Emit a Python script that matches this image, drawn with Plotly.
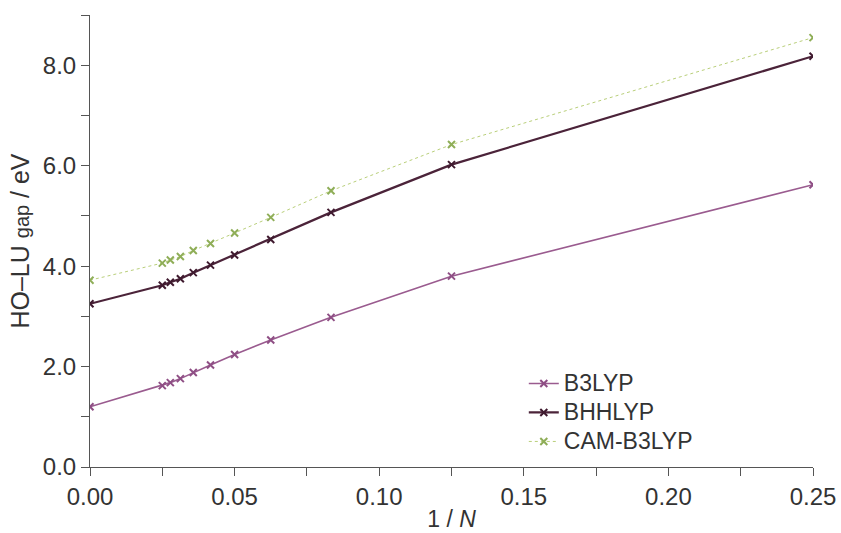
import plotly.graph_objects as go

# Inverse chain length 1/N
inv_n = [0.0, 1/40, 1/36, 1/32, 1/28, 1/24, 1/20, 1/16, 1/12, 1/8, 1/4]

# HOMO-LUMO gaps (eV)
b3lyp = [1.20, 1.62, 1.68, 1.76, 1.88, 2.03, 2.24, 2.53, 2.98, 3.80, 5.62]
bhhlyp = [3.25, 3.62, 3.68, 3.75, 3.87, 4.02, 4.22, 4.53, 5.07, 6.02, 8.18]
cam_b3lyp = [3.72, 4.06, 4.12, 4.19, 4.31, 4.45, 4.66, 4.97, 5.50, 6.42, 8.55]

series_names = ["B3LYP", "BHHLYP", "CAM-B3LYP"]
series_values = [b3lyp, bhhlyp, cam_b3lyp]
line_colors = ["#9a5b8f", "#4b2339", "#b9cf7a"]
marker_colors = ["#8f4f85", "#3f1a2f", "#8fae58"]
widths = [1.6, 2.2, 1.0]
dashes = ["solid", "solid", "dot"]

font_family = "'Liberation Sans', Arial, sans-serif"
text_color = "#333333"

fig = go.Figure()
for name, vals, lc, mc, w, d in zip(series_names, series_values, line_colors,
                                    marker_colors, widths, dashes):
    fig.add_trace(go.Scatter(
        x=inv_n, y=vals, mode="lines+markers",
        name=f"<span style='font-size:23px'>{name}</span>",
        line=dict(color=lc, width=w, dash=d),
        marker=dict(symbol="x-thin", size=7, line=dict(color=mc, width=2)),
    ))

axis_common = dict(
    showgrid=False, zeroline=False, showline=True, linecolor="#555555",
    linewidth=1, ticks="outside", tickcolor="#555555", ticklen=8,
    tickfont=dict(family=font_family, size=24, color=text_color),
    automargin=False,
)

fig.update_layout(
    width=841, height=533,
    margin=dict(l=90, r=28, t=15, b=66),
    paper_bgcolor="white", plot_bgcolor="white",
    font=dict(family=font_family, color=text_color),
    xaxis=dict(
        range=[0, 0.25], tickvals=[0, 0.05, 0.10, 0.15, 0.20, 0.25],
        ticktext=["0.00", "0.05", "0.10", "0.15", "0.20", "0.25"],
        minor=dict(dtick=0.025, tick0=0, ticks="outside", ticklen=8, tickcolor="#555555"),
        title=dict(text="1 / <i>N</i>", font=dict(size=23, family=font_family), standoff=2),
        **axis_common,
    ),
    yaxis=dict(
        range=[0, 9], tickvals=[0, 2, 4, 6, 8],
        ticktext=["0.0", "2.0", "4.0", "6.0", "8.0"],
        minor=dict(dtick=1, tick0=0, ticks="outside", ticklen=8, tickcolor="#555555"),
        title=dict(text="HO–LU <span style='font-size:20px'>gap</span> / eV",
                   font=dict(size=25, family=font_family), standoff=6),
        **axis_common,
    ),
    legend=dict(
        x=0.60, y=0.228, xanchor="left", yanchor="top",
        bgcolor="rgba(0,0,0,0)", font=dict(size=20, family=font_family, color=text_color),
        tracegroupgap=0, itemwidth=30,
    ),
)

fig.write_html("out.html")
